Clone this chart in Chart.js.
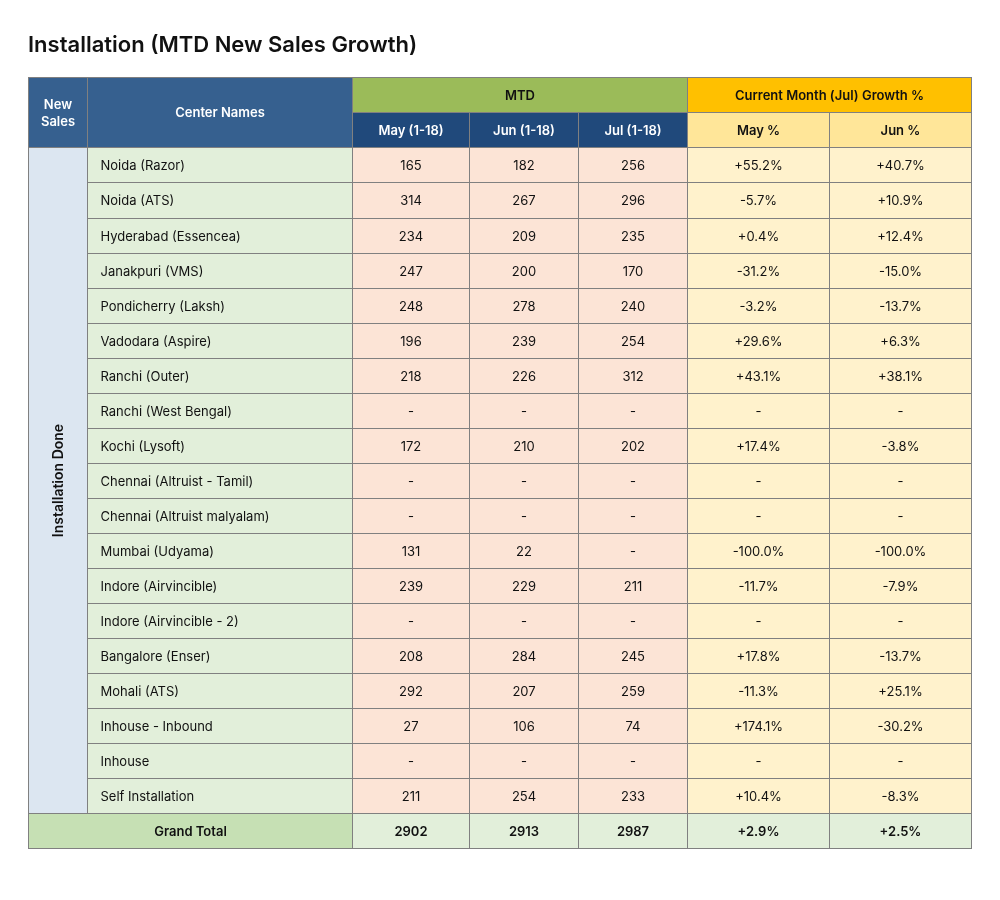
<!DOCTYPE html>
<html>
<head>
<meta charset="utf-8">
<script src="https://cdn.jsdelivr.net/npm/chart.js@4.4.1/dist/chart.umd.min.js"></script>
<style>
  html, body { margin: 0; padding: 0; background: #ffffff; }
  #growth { display: block; }
</style>
</head>
<body>
<canvas id="growth" width="1000" height="900"></canvas>
<script>
// Table data
const centers = [
  'Noida (Razor)',
  'Noida (ATS)',
  'Hyderabad (Essencea)',
  'Janakpuri (VMS)',
  'Pondicherry (Laksh)',
  'Vadodara (Aspire)',
  'Ranchi (Outer)',
  'Ranchi (West Bengal)',
  'Kochi (Lysoft)',
  'Chennai (Altruist - Tamil)',
  'Chennai (Altruist malyalam)',
  'Mumbai (Udyama)',
  'Indore (Airvincible)',
  'Indore (Airvincible - 2)',
  'Bangalore (Enser)',
  'Mohali (ATS)',
  'Inhouse - Inbound',
  'Inhouse',
  'Self Installation'
];
const mayMtd = [165, 314, 234, 247, 248, 196, 218, null, 172, null, null, 131, 239, null, 208, 292, 27, null, 211];
const junMtd = [182, 267, 209, 200, 278, 239, 226, null, 210, null, null, 22, 229, null, 284, 207, 106, null, 254];
const julMtd = [256, 296, 235, 170, 240, 254, 312, null, 202, null, null, null, 211, null, 245, 259, 74, null, 233];
const mayGrowth = [55.2, -5.7, 0.4, -31.2, -3.2, 29.6, 43.1, null, 17.4, null, null, -100.0, -11.7, null, 17.8, -11.3, 174.1, null, 10.4];
const junGrowth = [40.7, 10.9, 12.4, -15.0, -13.7, 6.3, 38.1, null, -3.8, null, null, -100.0, -7.9, null, -13.7, 25.1, -30.2, null, -8.3];
const totalMtd = [2902, 2913, 2987];
const totalGrowth = [2.9, 2.5];
const mtdLabels = ['May (1-18)', 'Jun (1-18)', 'Jul (1-18)'];
const growthLabels = ['May %', 'Jun %'];

// layout: column edges in table units, rows are index units
const colEdges = [0, 59, 324, 441, 550, 659, 801, 943];
const headRows = 2;
const rowCount = headRows + centers.length + 1;

const FONT = 'Inter, "Noto Sans", sans-serif';
const BORDER = '#808080';

function fmtNum(v) { return v === null ? '-' : String(v); }
function fmtPct(v) {
  if (v === null) return '-';
  return (v >= 0 ? '+' : '-') + Math.abs(v).toFixed(1) + '%';
}

const tablePlugin = {
  id: 'tablePlugin',
  afterDraw(chart) {
    const c = chart.ctx;
    const xs = chart.scales.x;
    const ys = chart.scales.y;

    function cell(c0, c1, r0, r1, bg, text, opts) {
      opts = opts || {};
      const x0 = Math.round(xs.getPixelForValue(colEdges[c0])) + 0.5;
      const x1 = Math.round(xs.getPixelForValue(colEdges[c1])) + 0.5;
      const y0 = Math.round(ys.getPixelForValue(r0)) + 0.5;
      const y1 = Math.round(ys.getPixelForValue(r1)) + 0.5;
      c.save();
      c.fillStyle = bg;
      c.fillRect(x0, y0, x1 - x0, y1 - y0);
      c.strokeStyle = BORDER;
      c.lineWidth = 1;
      c.strokeRect(x0, y0, x1 - x0, y1 - y0);
      if (text !== undefined) {
        const size = opts.size || 13;
        c.fillStyle = opts.color || '#111111';
        c.font = (opts.bold ? '600 ' : '400 ') + size + 'px ' + FONT;
        c.textBaseline = 'middle';
        const cy = (y0 + y1) / 2;
        if (opts.vertical) {
          c.translate((x0 + x1) / 2, cy);
          c.rotate(-Math.PI / 2);
          c.textAlign = 'center';
          c.fillText(text, 0, 1);
        } else {
          const lines = Array.isArray(text) ? text : [text];
          const lh = size + 4;
          let ty = cy - (lines.length - 1) * lh / 2 + 1;
          lines.forEach(function (ln) {
            if (opts.left) {
              c.textAlign = 'left';
              c.fillText(ln, x0 + 13, ty);
            } else {
              c.textAlign = 'center';
              c.fillText(ln, (x0 + x1) / 2, ty);
            }
            ty += lh;
          });
        }
      }
      c.restore();
    }

    // header
    cell(0, 1, 0, 2, '#36608F', ['New', 'Sales'], { bold: true, color: '#ffffff' });
    cell(1, 2, 0, 2, '#36608F', 'Center Names', { bold: true, color: '#ffffff' });
    cell(2, 5, 0, 1, '#9BBB59', 'MTD', { bold: true });
    cell(5, 7, 0, 1, '#FFC000', 'Current Month (Jul) Growth %', { bold: true });
    mtdLabels.forEach(function (t, i) {
      cell(2 + i, 3 + i, 1, 2, '#20497B', t, { bold: true, color: '#ffffff' });
    });
    growthLabels.forEach(function (t, i) {
      cell(5 + i, 6 + i, 1, 2, '#FFE699', t, { bold: true });
    });

    // body
    const bodyEnd = headRows + centers.length;
    cell(0, 1, headRows, bodyEnd, '#DCE6F1', 'Installation Done', { bold: true, vertical: true, size: 14 });
    centers.forEach(function (name, i) {
      const r = headRows + i;
      cell(1, 2, r, r + 1, '#E2EFDA', name, { left: true });
      cell(2, 3, r, r + 1, '#FCE4D6', fmtNum(mayMtd[i]));
      cell(3, 4, r, r + 1, '#FCE4D6', fmtNum(junMtd[i]));
      cell(4, 5, r, r + 1, '#FCE4D6', fmtNum(julMtd[i]));
      cell(5, 6, r, r + 1, '#FFF2CC', fmtPct(mayGrowth[i]));
      cell(6, 7, r, r + 1, '#FFF2CC', fmtPct(junGrowth[i]));
    });

    // grand total
    cell(0, 2, bodyEnd, bodyEnd + 1, '#C6E0B4', 'Grand Total', { bold: true });
    totalMtd.forEach(function (v, i) {
      cell(2 + i, 3 + i, bodyEnd, bodyEnd + 1, '#E2EFDA', fmtNum(v), { bold: true });
    });
    totalGrowth.forEach(function (v, i) {
      cell(5 + i, 6 + i, bodyEnd, bodyEnd + 1, '#E2EFDA', fmtPct(v), { bold: true });
    });
  }
};

var ctx_growth = document.getElementById('growth');
var growth = new Chart(ctx_growth, {
  type: 'scatter',
  data: { datasets: [{ data: [], pointRadius: 0 }] },
  options: {
    responsive: false,
    animation: false,
    events: [],
    layout: {
      padding: { left: 28, right: 29, top: 20, bottom: 52 }
    },
    scales: {
      x: { type: 'linear', display: false, min: colEdges[0], max: colEdges[colEdges.length - 1] },
      y: { type: 'linear', display: false, min: 0, max: rowCount, reverse: true }
    },
    plugins: {
      legend: { display: false },
      tooltip: { enabled: false },
      title: {
        display: true,
        text: 'Installation (MTD New Sales Growth)',
        align: 'start',
        color: '#111111',
        font: { family: FONT, size: 22, weight: 600 },
        padding: { top: 12, bottom: 19 }
      }
    }
  },
  plugins: [tablePlugin]
});
</script>
</body>
</html>
